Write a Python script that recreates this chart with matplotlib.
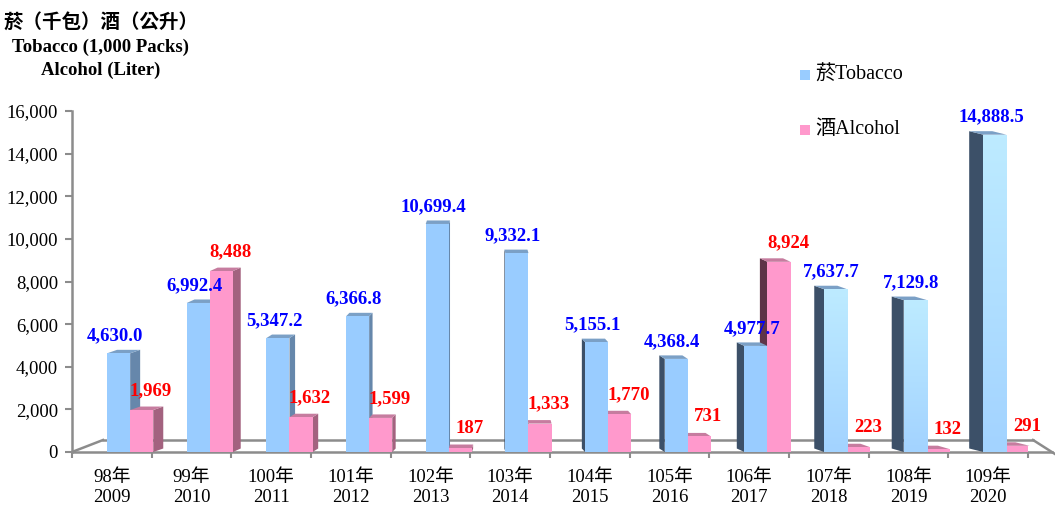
import matplotlib
matplotlib.use("Agg")
import matplotlib.pyplot as plt
import numpy as np
from matplotlib.patches import Polygon, Rectangle
from matplotlib.transforms import offset_copy, IdentityTransform

# ---- data ----
roc_years = ["98年", "99年", "100年", "101年", "102年", "103年",
             "104年", "105年", "106年", "107年", "108年", "109年"]
ad_years = ["2009", "2010", "2011", "2012", "2013", "2014",
            "2015", "2016", "2017", "2018", "2019", "2020"]
tobacco = [4630.0, 6992.4, 5347.2, 6366.8, 10699.4, 9332.1,
           5155.1, 4368.4, 4977.7, 7637.7, 7129.8, 14888.5]
alcohol = [1969, 8488, 1632, 1599, 187, 1333,
           1770, 731, 8924, 223, 132, 291]
y_ticks = [0, 2000, 4000, 6000, 8000, 10000, 12000, 14000, 16000]

# ---- styling ----
SERIF = ["Liberation Serif", "Noto Sans CJK TC"]
CJK = ["Noto Sans CJK TC", "DejaVu Sans"]
GRAY = "#8c8c8c"
T_FRONT, T_SIDE_R, T_SIDE_L, T_TOP = "#99CCFF", "#6687AB", "#3C5068", "#7BA0C6"
A_FRONT, A_SIDE_R, A_SIDE_L, A_TOP = "#FF99CC", "#A3627F", "#5E3448", "#C67C9F"
FS = 13.5

W, H = 1055, 507
fig = plt.figure(figsize=(W / 100, H / 100), dpi=100)
fig.patch.set_facecolor("white")

x0, x1, ybot, ytop = 72, 1028, 452, 111
ax = fig.add_axes([x0 / W, (H - ybot) / H, (x1 - x0) / W, (ybot - ytop) / H])
ax.set_xlim(-0.5, 11.5)
ax.set_ylim(0, 16000)
ax.set_facecolor("none")
for s in ("top", "right", "bottom"):
    ax.spines[s].set_visible(False)
ax.spines["left"].set_color(GRAY)
ax.spines["left"].set_linewidth(1.8)

ax.set_yticks(y_ticks)
ax.set_yticklabels([f"{v:,}" for v in y_ticks], fontsize=FS, family=SERIF)
ax.tick_params(axis="y", length=5, width=1.5, color=GRAY, pad=5)

n = len(tobacco)
idx = np.arange(n)
ax.set_xticks(np.arange(-0.5, n, 1.0))
ax.set_xticklabels([])
ax.tick_params(axis="x", length=4, width=1.5, color=GRAY, direction="out")

# floor of the 3-D box (axes-fraction coordinates)
fx = lambda px: (px - x0) / (x1 - x0)
fy = lambda px: (ybot - px) / (ybot - ytop)
floor_kw = dict(transform=ax.transAxes, color=GRAY, lw=1.8, clip_on=False, zorder=1)
ax.plot([0, fx(1052)], [0, 0], **floor_kw)
ax.plot([0, fx(103)], [0, fy(440)], **floor_kw)
ax.plot([fx(103), fx(1033)], [fy(440), fy(440)], **floor_kw)
ax.plot([fx(1033), fx(1055)], [fy(440), fy(454)], **floor_kw)

# category labels
for i in idx:
    ax.text(i, 0, f"{roc_years[i]}\n{ad_years[i]}", ha="center", va="top",
            fontsize=FS, family=SERIF, linespacing=1.25,
            transform=offset_copy(ax.transData, fig, x=0, y=-17, units="dots"))

bw = 0.29
t_left = -0.06
a_left = t_left + bw
dy_px = 3.5


def to_disp(x, y):
    return ax.transData.transform((x, y))


def box(xl, h, dx, front, side_r, side_l, top, z, gradient=False):
    """Draw one pseudo-3D bar: front face, visible side and top face."""
    (xa, ya), (xb, yb) = to_disp(xl, 0), to_disp(xl + bw, h)
    pts_top = [(xa, yb), (xb, yb), (xb + dx, yb + dy_px), (xa + dx, yb + dy_px)]
    if dx >= 0:
        pts_side = [(xb, ya), (xb, yb), (xb + dx, yb + dy_px), (xb + dx, ya + dy_px)]
        sc = side_r
    else:
        pts_side = [(xa, ya), (xa, yb), (xa + dx, yb + dy_px), (xa + dx, ya + dy_px)]
        sc = side_l
    for pts, c in ((pts_side, sc), (pts_top, top)):
        ax.add_patch(Polygon(pts, closed=True, facecolor=c, edgecolor="none",
                             transform=IdentityTransform(), zorder=z,
                             clip_on=False))
    bars = ax.bar(xl, h, width=bw, align="edge", color=front, zorder=z + 0.5,
                  linewidth=0)
    if gradient:
        grad = np.linspace(0, 1, 64).reshape(-1, 1)
        cmap = matplotlib.colors.LinearSegmentedColormap.from_list(
            "tb", ["#A3D3FF", "#BDEBFF"])
        im = ax.imshow(grad, cmap=cmap, extent=(xl, xl + bw, 0, h), aspect="auto",
                       origin="lower", zorder=z + 0.6, interpolation="bilinear")
        im.set_clip_path(bars[0])


base = 2
for i in idx:
    dx = 10 - 2.2 * i
    zb = base + i * 10
    t_args = (i + t_left, tobacco[i], dx, T_FRONT, T_SIDE_R, T_SIDE_L, T_TOP)
    a_args = (i + a_left, alcohol[i], dx, A_FRONT, A_SIDE_R, A_SIDE_L, A_TOP)
    if dx >= 0:
        box(*t_args, z=zb)
        box(*a_args, z=zb + 3)
    else:
        box(*a_args, z=zb)
        box(*t_args, z=zb + 3, gradient=(i >= 9))

ax.set_xlim(-0.5, 11.5)
ax.set_ylim(0, 16000)

# value labels
for i in idx:
    ax.text(i + t_left + bw / 2, tobacco[i], f"{tobacco[i]:,.1f}",
            ha="center", va="baseline", color="#0000FF", fontsize=FS,
            fontweight="bold", family=SERIF, zorder=500,
            transform=offset_copy(ax.transData, fig, x=-4, y=13, units="dots"))
    ax.text(i + a_left + bw / 2, alcohol[i], f"{alcohol[i]:,}",
            ha="center", va="baseline", color="#FF0000", fontsize=FS,
            fontweight="bold", family=SERIF, zorder=500,
            transform=offset_copy(ax.transData, fig, x=9, y=15, units="dots"))

# axis titles
fig.text(101 / W, 1 - 22 / H, "菸（千包）酒（公升）", ha="center", va="center",
         fontsize=14, fontweight="bold", family=CJK)
fig.text(101 / W, 1 - 47 / H, "Tobacco (1,000 Packs)", ha="center", va="center",
         fontsize=13.5, fontweight="bold", family=SERIF)
fig.text(101 / W, 1 - 70 / H, "Alcohol (Liter)", ha="center", va="center",
         fontsize=13.5, fontweight="bold", family=SERIF)

# legend
for ly, label, c in ((75, "菸Tobacco", T_FRONT), (130, "酒Alcohol", A_FRONT)):
    fig.patches.append(Rectangle((800 / W, 1 - (ly + 5) / H), 10 / W, 10 / H,
                                 transform=fig.transFigure, facecolor=c,
                                 edgecolor="none", figure=fig))
    fig.text(815 / W, 1 - ly / H, label, ha="left", va="center",
             fontsize=14.5, family=SERIF)

fig.savefig("out.png", dpi=100)
